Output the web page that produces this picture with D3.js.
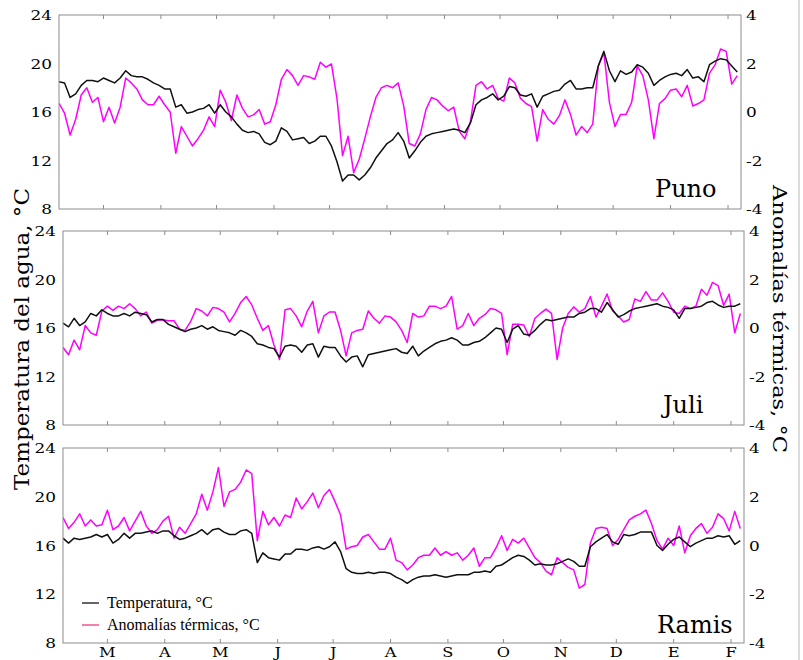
<!DOCTYPE html>
<html>
<head>
<meta charset="utf-8">
<script src="https://cdn.jsdelivr.net/npm/d3@7"></script>
<style>
  body { margin: 0; background: #fff; }
  svg { display: block; }
</style>
</head>
<body>
<svg id="chart" width="803" height="660"></svg>
<script>
// month initials (Spanish), tick labels
const months = ["M", "A", "M", "J", "J", "A", "S", "O", "N", "D", "E", "F"]
const tempTicks = [8, 12, 16, 20, 24]
const anomTicks = [-4, -2, 0, 2, 4]

// series sampled every 3 days from 5 Feb
const startDate = new Date(2019, 1, 5)
const endDate = new Date(2020, 1, 8)
const stepDays = 3

const punoTemp = [
  18.5,18.4,17.2,17.5,18.2,18.6,18.6,18.5,18.8,18.6,
  18.4,18.8,19.4,19.0,18.9,18.9,18.7,18.4,18.2,17.9,
  17.9,16.4,16.6,15.9,16.0,16.2,16.3,16.6,15.9,16.6,
  16.0,15.6,15.0,14.5,14.3,14.4,14.2,13.5,13.3,13.6,
  14.7,14.4,13.7,13.8,13.9,13.4,13.6,14.0,14.0,13.2,
  11.9,10.3,10.8,10.8,10.4,10.8,11.4,12.2,12.8,13.4,
  13.7,14.3,13.6,12.2,12.8,13.5,14.0,14.2,14.3,14.4,
  14.5,14.6,14.5,14.3,15.1,16.6,17.0,17.2,17.5,17.0,
  17.3,18.1,18.0,17.4,17.3,17.5,16.4,17.3,17.5,17.7,
  17.8,18.3,18.6,17.9,17.9,18.0,18.0,19.8,21.0,19.4,
  18.5,19.4,19.1,19.3,19.9,19.7,19.2,18.2,18.6,18.9,
  19.1,19.2,19.0,19.5,18.8,18.9,18.5,19.9,20.2,20.4,
  20.3,19.8,19.3
]
const punoAnom = [
  0.36,-0.05,-0.95,-0.3,0.7,1.0,0.4,0.6,-0.4,0.2,
  -0.45,0.2,1.4,1.2,0.95,0.5,0.3,0.3,0.65,0.3,
  0.0,-1.7,-0.6,-1.0,-1.4,-1.1,-0.75,-0.2,-0.6,0.9,
  0.4,-0.35,0.7,0.15,-0.2,-0.12,0.1,-0.5,-0.4,0.3,
  1.35,1.75,1.5,1.1,1.5,1.45,1.35,2.05,1.85,1.98,
  0.55,-1.8,-1.0,-2.5,-1.95,-1.1,-0.2,0.6,1.0,1.1,
  1.0,1.2,0.25,-1.3,-1.4,-0.9,0.1,0.6,0.5,0.25,
  0.05,0.2,-0.8,-1.1,-0.4,1.1,1.25,0.95,1.1,0.56,
  0.45,1.4,1.2,0.56,0.35,0.22,-1.2,0.1,-0.3,-0.5,
  -0.15,0.5,-0.1,-0.95,-0.6,-0.85,-0.5,1.9,2.45,0.4,
  -0.6,-0.1,-0.1,0.4,1.9,1.5,0.5,-1.1,0.35,0.55,
  0.9,0.95,0.63,1.1,0.25,0.35,0.5,1.6,1.94,2.6,
  2.5,1.15,1.5
]
const juliTemp = [
  16.4,16.1,16.8,16.2,16.5,17.2,17.0,17.5,17.2,17.0,
  17.0,17.2,17.0,17.3,17.2,17.1,16.5,16.7,16.7,16.3,
  16.1,15.9,15.7,15.9,16.0,16.2,15.9,16.1,15.8,15.7,
  15.6,15.4,15.8,15.6,15.3,14.7,14.6,14.4,14.3,13.6,
  14.5,14.6,14.5,14.0,14.6,14.7,13.6,14.5,14.4,14.4,
  13.7,13.2,13.6,13.7,12.8,13.8,13.9,14.0,14.1,14.2,
  14.3,14.0,13.9,14.5,13.7,14.1,14.4,14.7,14.9,15.0,
  15.2,15.0,14.6,14.6,14.8,14.9,15.2,15.6,16.0,15.9,
  14.8,15.9,16.2,15.5,15.4,15.8,16.3,16.7,16.6,16.7,
  16.8,16.9,16.9,17.2,17.3,17.6,17.6,17.3,18.1,17.5,
  16.9,17.1,17.4,17.6,17.7,17.8,17.9,18.0,17.8,17.7,
  17.5,16.8,17.6,17.6,17.7,17.8,18.1,18.2,17.9,17.7,
  17.8,17.8,18.0
]
const juliAnom = [
  -0.8,-1.1,-0.5,-0.9,0.1,-0.2,-0.3,0.7,0.9,0.73,
  0.9,0.8,1.0,0.8,0.5,0.66,0.2,0.32,0.34,0.3,
  0.3,-0.05,-0.1,0.27,0.8,0.7,0.5,0.85,0.8,0.65,
  0.25,0.6,1.05,1.3,0.95,0.4,-0.1,0.1,-0.7,-1.3,
  0.75,0.8,0.5,0.05,0.7,1.1,-0.2,0.5,0.66,0.66,
  -0.1,-1.15,-0.2,-0.1,-0.05,0.7,0.4,0.2,0.5,0.45,
  0.25,-0.1,-0.6,0.6,0.45,0.5,0.9,0.9,0.8,0.9,
  1.3,-0.05,0.1,0.6,0.1,0.4,0.55,0.8,0.75,0.6,
  -1.1,0.15,0.15,0.12,-0.35,0.4,0.6,0.78,0.6,-1.3,
  0.0,0.6,0.87,0.65,0.8,1.3,0.45,0.9,1.4,0.7,
  0.5,0.25,0.35,1.2,1.1,1.5,1.15,1.15,1.45,1.1,
  0.65,0.6,0.9,0.8,0.9,1.6,1.35,1.88,1.75,0.93,
  1.4,-0.2,0.6
]
const ramisTemp = [
  16.6,16.2,16.6,16.5,16.6,16.7,16.9,16.7,16.9,16.2,
  16.5,17.0,16.6,17.0,17.0,17.1,17.2,17.0,17.2,17.2,
  16.8,16.5,16.6,16.8,17.0,17.3,16.9,17.3,17.4,17.1,
  16.9,16.9,17.2,17.3,17.0,14.6,15.4,15.0,14.9,14.8,
  15.3,15.3,15.7,15.7,15.6,15.8,15.9,15.7,15.9,16.3,
  15.5,14.1,13.8,13.7,13.7,13.8,13.7,13.8,13.8,13.7,
  13.4,13.2,12.9,13.2,13.4,13.5,13.5,13.6,13.5,13.4,
  13.5,13.6,13.6,13.6,13.8,13.8,13.9,13.8,14.3,14.4,
  14.7,15.0,15.2,15.1,14.8,14.4,14.5,14.4,14.4,14.5,
  14.7,14.9,14.7,14.3,14.3,15.9,16.3,16.6,16.9,16.3,
  16.1,16.9,16.8,16.9,17.1,17.1,17.1,16.0,15.6,16.1,
  16.5,16.7,16.3,15.9,16.2,16.4,16.6,16.6,16.8,16.7,
  16.8,16.1,16.4
]
const ramisAnom = [
  1.15,0.7,0.95,1.3,0.8,1.05,0.8,0.85,1.45,0.65,
  0.8,1.15,0.6,1.0,1.4,0.8,0.5,0.65,1.0,1.2,
  0.3,0.75,0.5,0.9,1.3,2.1,1.45,2.2,3.2,1.6,
  2.2,2.3,2.6,3.1,2.95,0.2,1.4,0.85,1.15,0.8,
  1.25,1.15,1.95,1.5,1.8,2.15,1.55,2.05,2.3,1.8,
  1.25,-0.15,-0.05,0.0,0.35,0.45,0.15,-0.15,-0.15,0.3,
  -0.6,-0.7,-1.0,-0.8,-0.5,-0.4,-0.4,-0.1,-0.4,-0.25,
  -0.4,-0.3,-0.6,-0.4,-0.1,-0.85,-0.5,-0.5,-0.1,0.4,
  -0.2,0.25,0.1,0.3,-0.1,-0.5,-0.7,-1.05,-1.2,-0.5,
  -0.7,-0.9,-1.0,-1.75,-1.6,0.1,0.7,0.75,0.7,0.0,
  0.25,0.65,1.05,1.2,1.3,1.45,0.9,0.2,-0.15,0.3,
  0.0,0.8,-0.3,0.4,0.7,0.9,0.5,0.75,1.3,1.1,
  0.6,1.4,0.7
]

const panels = [
  { name: "Puno", temp: punoTemp, anom: punoAnom, left: 59, right: 741, top: 15, bottom: 209, lx: 655, ly: 197 },
  { name: "Juli", temp: juliTemp, anom: juliAnom, left: 63, right: 744, top: 231, bottom: 425, lx: 663, ly: 413 },
  { name: "Ramis", temp: ramisTemp, anom: ramisAnom, left: 63, right: 744, top: 448, bottom: 643, lx: 657, ly: 633 }
]

const svg = d3.select("#chart")
const serif = "'DejaVu Serif', serif"
const axisColor = "#8c8c8c"
const dateAt = i => d3.timeDay.offset(startDate, i * stepDays)
const monthStarts = d3.timeMonth.range(new Date(2019, 2, 1), new Date(2020, 1, 2))

// image frame on the right
svg.append("rect")
  .attr("x", 798).attr("y", 0)
  .attr("width", 2).attr("height", 660)
  .attr("fill", "#dcdcdc")

panels.forEach(function(p, pi) {
  const x = d3.scaleTime().domain([startDate, endDate]).range([p.left, p.right])
  const yT = d3.scaleLinear().domain([8, 24]).range([p.bottom, p.top])
  const yA = d3.scaleLinear().domain([-4, 4]).range([p.bottom, p.top])

  const g = svg.append("g")

  const clipId = "clip" + pi
  svg.append("clipPath").attr("id", clipId)
    .append("rect")
    .attr("x", p.left).attr("y", p.top)
    .attr("width", p.right - p.left).attr("height", p.bottom - p.top)

  // month ticks, top and bottom, pointing inwards
  g.selectAll(".tt")
    .data(monthStarts)
    .enter()
    .append("line")
    .attr("x1", d => x(d)).attr("x2", d => x(d))
    .attr("y1", p.top).attr("y2", p.top + 4)
    .attr("stroke", axisColor)
  g.selectAll(".tb")
    .data(monthStarts)
    .enter()
    .append("line")
    .attr("x1", d => x(d)).attr("x2", d => x(d))
    .attr("y1", p.bottom).attr("y2", p.bottom - 4)
    .attr("stroke", axisColor)

  const lines = g.append("g").attr("clip-path", "url(#" + clipId + ")")

  lines.append("path")
    .datum(p.anom)
    .attr("fill", "none")
    .attr("stroke", "#ff00ff")
    .attr("stroke-width", 1.5)
    .attr("stroke-linejoin", "round")
    .attr("d", d3.line().x((d, i) => x(dateAt(i))).y(d => yA(d)))

  lines.append("path")
    .datum(p.temp)
    .attr("fill", "none")
    .attr("stroke", "#111")
    .attr("stroke-width", 1.5)
    .attr("stroke-linejoin", "round")
    .attr("d", d3.line().x((d, i) => x(dateAt(i))).y(d => yT(d)))

  // box
  g.append("rect")
    .attr("x", p.left).attr("y", p.top)
    .attr("width", p.right - p.left).attr("height", p.bottom - p.top)
    .attr("fill", "none")
    .attr("stroke", axisColor)
    .attr("stroke-width", 1)

  // left labels (temperature)
  g.selectAll(".yl")
    .data(tempTicks)
    .enter()
    .append("text")
    .attr("transform", d => "translate(" + (p.left - 7) + "," + (yT(d) + 5) + ") scale(1.3,1)")
    .attr("text-anchor", "end")
    .style("font-family", serif)
    .style("font-size", "13px")
    .text(d => d)

  // right labels (anomaly)
  g.selectAll(".yr")
    .data(anomTicks)
    .enter()
    .append("text")
    .attr("transform", d => "translate(" + (p.right + 5) + "," + (yA(d) + 5) + ") scale(1.3,1)")
    .attr("text-anchor", "start")
    .style("font-family", serif)
    .style("font-size", "13px")
    .text(d => d)

  // station name
  g.append("text")
    .attr("x", p.lx).attr("y", p.ly)
    .style("font-family", serif)
    .style("font-size", "24px")
    .text(p.name)

  // month letters under the last panel
  if (pi === panels.length - 1) {
    g.selectAll(".ml")
      .data(monthStarts)
      .enter()
      .append("text")
      .attr("transform", d => "translate(" + x(d) + ",657) scale(1.35,1)")
      .attr("text-anchor", "middle")
      .style("font-family", serif)
      .style("font-size", "12px")
      .text((d, i) => months[i])
  }
})

// axis titles
svg.append("text")
  .attr("transform", "translate(29,339) rotate(-90)")
  .attr("text-anchor", "middle")
  .attr("textLength", 302)
  .attr("lengthAdjust", "spacingAndGlyphs")
  .style("font-family", serif)
  .style("font-size", "20px")
  .text("Temperatura del agua, °C")

svg.append("text")
  .attr("transform", "translate(773,319) rotate(90)")
  .attr("text-anchor", "middle")
  .attr("textLength", 268)
  .attr("lengthAdjust", "spacingAndGlyphs")
  .style("font-family", serif)
  .style("font-size", "19px")
  .text("Anomalías térmicas, °C")

// legend
const legendItems = [
  { label: "Temperatura, °C", color: "#111" },
  { label: "Anomalías térmicas, °C", color: "#f03c82" }
]
const legend = svg.append("g")
legend.selectAll("line")
  .data(legendItems)
  .enter()
  .append("line")
  .attr("x1", 82).attr("x2", 99)
  .attr("y1", (d, i) => 603 + i * 22)
  .attr("y2", (d, i) => 603 + i * 22)
  .attr("stroke", d => d.color)
  .attr("stroke-width", 1.3)
legend.selectAll("text")
  .data(legendItems)
  .enter()
  .append("text")
  .attr("x", 107)
  .attr("y", (d, i) => 608 + i * 22)
  .style("font-family", "'Liberation Serif', serif")
  .style("font-size", "16px")
  .text(d => d.label)
</script>
</body>
</html>
